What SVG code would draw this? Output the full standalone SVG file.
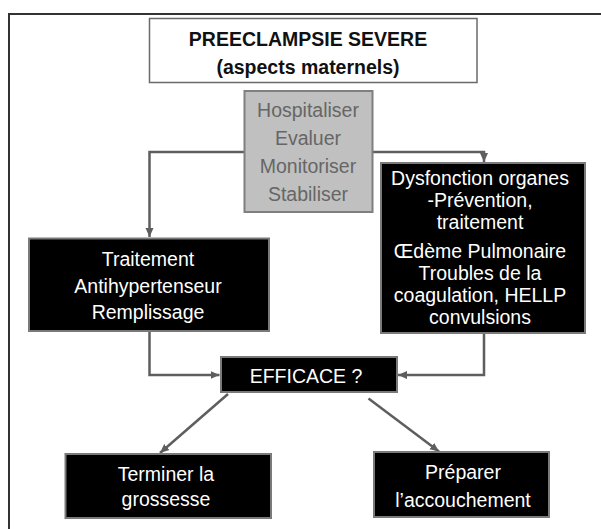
<svg xmlns="http://www.w3.org/2000/svg" width="601" height="529" viewBox="0 0 601 529">
<defs>
<marker id="arr" markerUnits="userSpaceOnUse" markerWidth="10" markerHeight="10" viewBox="0 0 10 10" refX="9" refY="5" orient="auto">
<path d="M0,1 L9,5 L0,9 Z" fill="#5e5e5e"/>
</marker>
</defs>
<style>
.frame{fill:none;stroke:#333;stroke-width:2}
.dark{fill:#000;stroke:#7a7a7a;stroke-width:2}
.gray{fill:#c0c0c0;stroke:#7f7f7f;stroke-width:2}
.white{fill:#fff;stroke:#6a6a6a;stroke-width:1.5}
.conn{fill:none;stroke:#5e5e5e;stroke-width:2.5;marker-end:url(#arr)}
text{font-family:"Liberation Sans",Arial,sans-serif;font-size:19.5px;text-anchor:middle}
.wt{fill:#fff}
.gt{fill:#666}
.tt{fill:#111;font-weight:bold}
</style>
<rect width="601" height="529" fill="#fff"/>
<path class="frame" d="M9,540 L9,14 L610,14"/>

<g id="title">
<rect class="white" x="149.5" y="18.5" width="327.5" height="64"/>
<text class="tt" x="308" y="46">PREECLAMPSIE SEVERE</text>
<text class="tt" x="308" y="74">(aspects maternels)</text>
</g>

<g id="connectors">
<polyline class="conn" points="244.5,152 149.5,152 149.5,237"/>
<polyline class="conn" points="372.6,152 484,152 484,162"/>
<polyline class="conn" points="149.5,332 149.5,375 219.5,375"/>
<polyline class="conn" points="484,334 484,375 398,375"/>
<line class="conn" x1="228" y1="394" x2="160" y2="453"/>
<line class="conn" x1="368.5" y1="398.5" x2="439" y2="451.5"/>
</g>

<g id="evaluer">
<rect class="gray" x="244.5" y="91" width="128" height="121"/>
<text class="gt" x="308" y="117">Hospitaliser</text>
<text class="gt" x="308" y="145">Evaluer</text>
<text class="gt" x="308" y="173">Monitoriser</text>
<text class="gt" x="308" y="200.5">Stabiliser</text>
</g>

<g id="dysfonction">
<rect class="dark" x="381" y="163" width="204" height="170"/>
<text class="wt" x="480" y="185">Dysfonction organes</text>
<text class="wt" x="480" y="207">-Prévention,</text>
<text class="wt" x="480" y="229">traitement</text>
<text class="wt" x="480" y="258">Œdème Pulmonaire</text>
<text class="wt" x="480" y="280">Troubles de la</text>
<text class="wt" x="480" y="302">coagulation, HELLP</text>
<text class="wt" x="480" y="324">convulsions</text>
</g>

<g id="traitement">
<rect class="dark" x="29" y="238.5" width="240" height="92.5"/>
<text class="wt" x="148" y="266">Traitement</text>
<text class="wt" x="148" y="292.5">Antihypertenseur</text>
<text class="wt" x="148" y="319">Remplissage</text>
</g>

<g id="efficace">
<rect class="dark" x="221" y="357" width="176" height="35"/>
<text class="wt" x="306" y="383">EFFICACE ?</text>
</g>

<g id="terminer">
<rect class="dark" x="65.5" y="454" width="205.5" height="64"/>
<text class="wt" x="166" y="480.5">Terminer la</text>
<text class="wt" x="166" y="506">grossesse</text>
</g>

<g id="preparer">
<rect class="dark" x="374" y="452" width="175" height="65"/>
<text class="wt" x="463" y="479">Préparer</text>
<text class="wt" x="463" y="506.5">l’accouchement</text>
</g>
</svg>
